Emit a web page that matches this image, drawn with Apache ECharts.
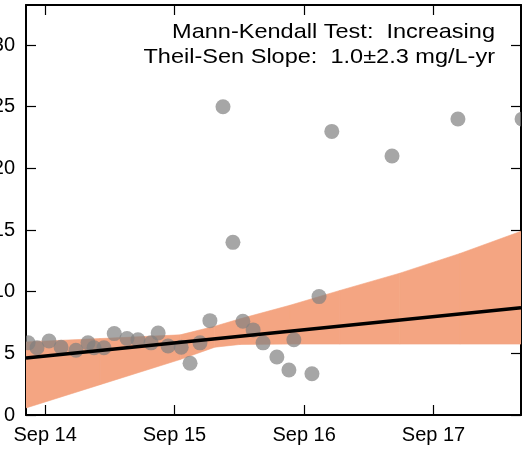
<!DOCTYPE html>
<html>
<head>
<meta charset="utf-8">
<script src="https://cdn.jsdelivr.net/npm/echarts@6/dist/echarts.min.js"></script>
<style>
  html, body { margin: 0; padding: 0; background: #fff; }
  #chart { width: 523px; height: 450px; }
</style>
</head>
<body>
<div id="chart"></div>
<script>
// sample dates and concentrations (mg/L)
var sampleDates = [
    '2014-07-15', '2014-08-09', '2014-09-12', '2014-10-16', '2014-11-27', '2014-12-31',
    '2015-01-17', '2015-02-14', '2015-03-15', '2015-04-20', '2015-05-21', '2015-06-27',
    '2015-07-17', '2015-08-14', '2015-09-20', '2015-10-15', '2015-11-12', '2015-12-10',
    '2016-01-16', '2016-02-13', '2016-03-12', '2016-04-10', '2016-05-08', '2016-06-16',
    '2016-07-20', '2016-08-03', '2016-09-23', '2016-10-13', '2016-11-18', '2017-05-07',
    '2017-11-09', '2018-05-09'
];
var sampleValues = [
    5.85, 5.45, 6.0, 5.5, 5.25, 5.85,
    5.45, 5.45, 6.6, 6.2, 6.1, 5.85,
    6.65, 5.6, 5.5, 4.2, 5.85, 7.65,
    25.0, 14.0, 7.6, 6.9, 5.85, 4.7,
    3.65, 6.1, 3.35, 9.6, 23.0, 21.0,
    24.0, 24.0
];

// confidence band of the Theil-Sen line
var bandDates = ['2014-07-09', '2015-02-03', '2015-09-17', '2015-12-24', '2016-03-04',
    '2016-07-23', '2016-12-11', '2017-05-29', '2017-11-15', '2018-05-06'];
var bandLow = [0.57, 2.46, 4.5, 5.5, 5.72, 5.75, 5.75, 5.75, 5.75, 5.75];
var bandHigh = [5.93, 6.2, 6.5, 7.2, 7.8, 8.9, 10.1, 11.5, 13.1, 14.9];

// trend line end points
var trendDates = ['2014-07-09', '2018-05-06'];
var trendValues = [4.63, 8.7];

var tickDates = ['2014-09-01', '2015-09-01', '2016-09-01', '2017-09-01'];
var tickLabels = ['Sep 14', 'Sep 15', 'Sep 16', 'Sep 17'];
var yTicks = [0, 5, 10, 15, 20, 25, 30];

var annotation = ['Mann-Kendall Test:  Increasing', 'Theil-Sen Slope:  1.0\u00b12.3 mg/L-yr'];

var FONT = 'Liberation Sans';
var xMin = '2014-07-09', xMax = '2018-05-06';
var BAND = '#f4a582';

function ts(s) { return Date.parse(s + 'T00:00:00Z'); }

var chart = echarts.init(document.getElementById('chart'));

var tickValues = tickDates.map(ts);
function fmtDate(v) {
    for (var i = 0; i < tickValues.length; i++) {
        if (Math.abs(tickValues[i] - v) < 86400000) return tickLabels[i];
    }
    return '';
}

var tickStyle = { inside: true, length: 10, lineStyle: { color: '#000', width: 1.2 } };
var lineStyle = { show: true, onZero: false, lineStyle: { color: '#000', width: 2 } };

var points = sampleDates.map(function (d, i) { return [ts(d), sampleValues[i]]; });
var band = bandDates.map(function (d, i) { return [ts(d), bandLow[i], bandHigh[i]]; });
var trend = trendDates.map(function (d, i) { return [ts(d), trendValues[i]]; });

chart.setOption({
    animation: false,
    backgroundColor: '#fff',
    grid: { left: 26, right: 2, top: 5, bottom: 35, outerBoundsMode: 'none', containLabel: false },
    xAxis: [{
        type: 'value', min: ts(xMin), max: ts(xMax), position: 'bottom',
        axisLine: lineStyle,
        axisTick: Object.assign({ customValues: tickValues }, tickStyle),
        axisLabel: {
            customValues: tickValues, formatter: fmtDate,
            color: '#000', fontFamily: FONT, fontSize: 20, margin: 10
        },
        splitLine: { show: false }
    }, {
        type: 'value', min: ts(xMin), max: ts(xMax), position: 'top',
        axisLine: lineStyle,
        axisTick: Object.assign({ customValues: tickValues }, tickStyle),
        axisLabel: { show: false },
        splitLine: { show: false }
    }],
    yAxis: [{
        type: 'value', min: 0, max: 33.25, position: 'left',
        axisLine: lineStyle,
        axisTick: Object.assign({ customValues: yTicks }, tickStyle),
        axisLabel: {
            customValues: yTicks, color: '#000', fontFamily: FONT, fontSize: 20, margin: 11
        },
        splitLine: { show: false }
    }, {
        type: 'value', min: 0, max: 33.25, position: 'right',
        axisLine: lineStyle,
        axisTick: Object.assign({ customValues: yTicks }, tickStyle),
        axisLabel: { show: false },
        splitLine: { show: false }
    }],
    series: [{
        // band drawn segment by segment between consecutive band points
        type: 'custom', data: band, clip: true, silent: true,
        encode: { x: 0, y: [1, 2] },
        renderItem: function (params, api) {
            var i = params.dataIndexInside;
            if (i >= params.dataInsideLength - 1) return null;
            var a0 = api.coord([api.value(0, i), api.value(1, i)]);
            var a1 = api.coord([api.value(0, i), api.value(2, i)]);
            var b0 = api.coord([api.value(0, i + 1), api.value(1, i + 1)]);
            var b1 = api.coord([api.value(0, i + 1), api.value(2, i + 1)]);
            return {
                type: 'polygon',
                shape: { points: [a0, b0, b1, a1] },
                style: { fill: BAND, stroke: BAND, lineWidth: 0.6 }
            };
        }
    }, {
        type: 'custom', data: points, clip: true,
        encode: { x: 0, y: 1 },
        renderItem: function (params, api) {
            var p = api.coord([api.value(0), api.value(1)]);
            return {
                type: 'circle',
                shape: { cx: p[0], cy: p[1], r: 7.5 },
                style: { fill: 'rgba(128,128,128,0.7)' }
            };
        }
    }, {
        type: 'line', data: trend, symbol: 'none',
        lineStyle: { color: '#000', width: 3.5 }
    }],
    graphic: [{
        type: 'text', x: 495, y: 32, scaleX: 1.12,
        style: { text: annotation[0], align: 'right', verticalAlign: 'middle', font: '21px "' + FONT + '"', fill: '#000' }
    }, {
        type: 'text', x: 495, y: 57, scaleX: 1.12,
        style: { text: annotation[1], align: 'right', verticalAlign: 'middle', font: '21px "' + FONT + '"', fill: '#000' }
    }]
});
</script>
</body>
</html>
